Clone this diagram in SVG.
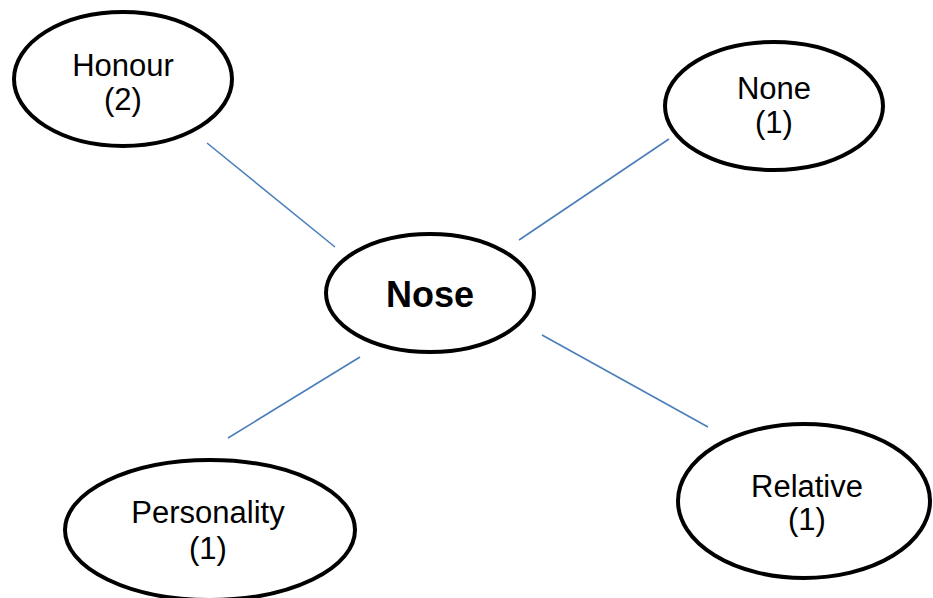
<svg xmlns="http://www.w3.org/2000/svg" width="933" height="598" viewBox="0 0 933 598">
<style>
.node ellipse{fill:#fff;stroke:#000;stroke-width:4}
.lbl{font-family:"Liberation Sans",Arial,sans-serif;font-size:31px;fill:#000;text-anchor:middle}
.main{font-family:"Liberation Sans",Arial,sans-serif;font-size:36px;font-weight:bold;fill:#000;text-anchor:middle}
.conn line{stroke:#4a7ebb;stroke-width:1.6}
</style>
<rect width="933" height="598" fill="#fff"/>
<g id="connectors" class="conn">
<line x1="207" y1="143" x2="335" y2="247"/>
<line x1="669" y1="139" x2="519" y2="240"/>
<line x1="360" y1="357" x2="228" y2="438"/>
<line x1="542" y1="335" x2="708" y2="427"/>
</g>
<g id="honour" class="node">
<ellipse cx="123" cy="79" rx="109" ry="67"/>
<text class="lbl" x="123" y="76">Honour</text>
<text class="lbl" x="123" y="110">(2)</text>
</g>
<g id="none" class="node">
<ellipse cx="774" cy="106" rx="109" ry="64"/>
<text class="lbl" x="774" y="99">None</text>
<text class="lbl" x="774" y="133">(1)</text>
</g>
<g id="nose" class="node">
<ellipse cx="430" cy="293" rx="104" ry="59"/>
<text class="main" x="430" y="307">Nose</text>
</g>
<g id="personality" class="node">
<ellipse cx="210" cy="530" rx="145" ry="70"/>
<text class="lbl" x="208" y="523">Personality</text>
<text class="lbl" x="208" y="559">(1)</text>
</g>
<g id="relative" class="node">
<ellipse cx="804" cy="501" rx="126" ry="77"/>
<text class="lbl" x="807" y="497">Relative</text>
<text class="lbl" x="807" y="530">(1)</text>
</g>
</svg>
